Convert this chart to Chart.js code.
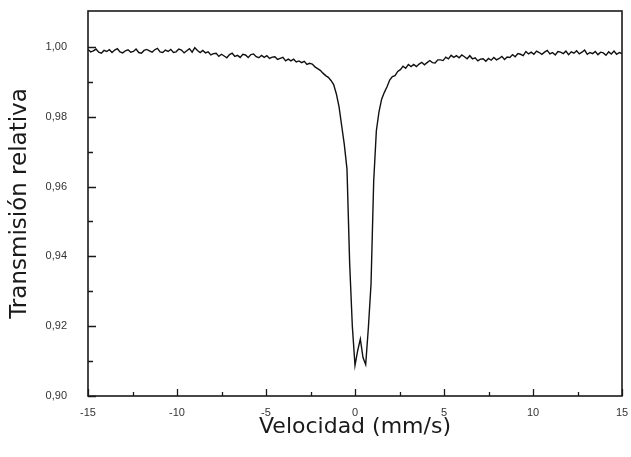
<!DOCTYPE html>
<html>
<head>
<meta charset="utf-8">
<script src="https://cdn.jsdelivr.net/npm/chart.js@4/dist/chart.umd.min.js"></script>
<style>
  html, body { margin: 0; padding: 0; background: #ffffff; }
  canvas { display: block; }
</style>
</head>
<body>
<canvas id="c" width="631" height="457"></canvas>
<script>
// Velocity channels (mm/s)
const velocity = [
-15,-14.85,-14.7,-14.55,-14.4,-14.25,-14.1,-13.95,-13.8,-13.65,
-13.5,-13.35,-13.2,-13.05,-12.9,-12.75,-12.6,-12.45,-12.3,-12.15,
-12,-11.85,-11.7,-11.55,-11.4,-11.25,-11.1,-10.95,-10.8,-10.65,
-10.5,-10.35,-10.2,-10.05,-9.9,-9.75,-9.6,-9.45,-9.3,-9.15,
-9,-8.85,-8.7,-8.55,-8.4,-8.25,-8.1,-7.95,-7.8,-7.65,
-7.5,-7.35,-7.2,-7.05,-6.9,-6.75,-6.6,-6.45,-6.3,-6.15,
-6,-5.85,-5.7,-5.55,-5.4,-5.25,-5.1,-4.95,-4.8,-4.65,
-4.5,-4.35,-4.2,-4.05,-3.9,-3.75,-3.6,-3.45,-3.3,-3.15,
-3,-2.85,-2.7,-2.55,-2.4,-2.25,-2.1,-1.95,-1.8,-1.65,
-1.5,-1.35,-1.2,-1.05,-0.9,-0.75,-0.6,-0.45,-0.3,-0.15,
0,0.15,0.3,0.45,0.6,0.75,0.9,1.05,1.2,1.35,
1.5,1.65,1.8,1.95,2.1,2.25,2.4,2.55,2.7,2.85,
3,3.15,3.3,3.45,3.6,3.75,3.9,4.05,4.2,4.35,
4.5,4.65,4.8,4.95,5.1,5.25,5.4,5.55,5.7,5.85,
6,6.15,6.3,6.45,6.6,6.75,6.9,7.05,7.2,7.35,
7.5,7.65,7.8,7.95,8.1,8.25,8.4,8.55,8.7,8.85,
9,9.15,9.3,9.45,9.6,9.75,9.9,10.05,10.2,10.35,
10.5,10.65,10.8,10.95,11.1,11.25,11.4,11.55,11.7,11.85,
12,12.15,12.3,12.45,12.6,12.75,12.9,13.05,13.2,13.35,
13.5,13.65,13.8,13.95,14.1,14.25,14.4,14.55,14.7,14.85,
15
];

// Relative transmission
const transmission = [
0.9993,0.9986,0.9989,0.9994,0.9985,0.9982,0.9990,0.9987,0.9992,0.9984,
0.9991,0.9995,0.9986,0.9983,0.9989,0.9992,0.9985,0.9987,0.9994,0.9984,
0.9982,0.9990,0.9993,0.9989,0.9985,0.9992,0.9996,0.9986,0.9984,0.9991,
0.9987,0.9993,0.9984,0.9986,0.9994,0.9991,0.9983,0.9989,0.9995,0.9985,
0.9998,0.9990,0.9984,0.9990,0.9983,0.9986,0.9977,0.9981,0.9982,0.9973,
0.9979,0.9974,0.9969,0.9978,0.9982,0.9973,0.9976,0.9970,0.9979,0.9977,
0.9970,0.9978,0.9980,0.9972,0.9969,0.9976,0.9970,0.9975,0.9967,0.9971,
0.9972,0.9964,0.9967,0.9970,0.9960,0.9965,0.9960,0.9965,0.9957,0.9960,
0.9955,0.9959,0.9950,0.9953,0.9951,0.9943,0.9938,0.9933,0.9925,0.9918,
0.9913,0.9904,0.9892,0.9866,0.9830,0.9775,0.9720,0.9650,0.9380,0.9200,
0.9088,0.9130,0.9163,0.9110,0.9090,0.9195,0.9320,0.9615,0.9760,0.9815,
0.9851,0.9870,0.9886,0.9905,0.9915,0.9918,0.9930,0.9935,0.9945,0.9939,
0.9950,0.9944,0.9950,0.9944,0.9951,0.9956,0.9949,0.9955,0.9961,0.9955,
0.9954,0.9963,0.9963,0.9961,0.9971,0.9966,0.9976,0.9970,0.9975,0.9969,
0.9977,0.9972,0.9966,0.9975,0.9966,0.9969,0.9960,0.9965,0.9966,0.9959,
0.9967,0.9962,0.9970,0.9963,0.9967,0.9973,0.9964,0.9971,0.9970,0.9978,
0.9972,0.9981,0.9979,0.9975,0.9987,0.9980,0.9985,0.9979,0.9988,0.9984,
0.9979,0.9985,0.9990,0.9980,0.9984,0.9977,0.9987,0.9985,0.9981,0.9988,
0.9978,0.9986,0.9982,0.9989,0.9980,0.9985,0.9991,0.9979,0.9984,0.9981,
0.9987,0.9978,0.9985,0.9983,0.9976,0.9986,0.9980,0.9988,0.9979,0.9984,
0.9981
];

const xMajorTicks = [-15, -10, -5, 0, 5, 10, 15];
const xMinorTicks = [-12.5, -7.5, -2.5, 2.5, 7.5, 12.5];
const yMajorTicks = [0.90, 0.92, 0.94, 0.96, 0.98, 1.00];
const yMinorTicks = [0.91, 0.93, 0.95, 0.97, 0.99];

const xTitle = 'Velocidad (mm/s)';
const yTitle = 'Transmisión relativa';

const points = velocity.map((v, i) => ({ x: v, y: transmission[i] }));

const frameTicks = {
  id: 'frameTicks',
  afterDatasetsDraw(chart) {
    const { ctx, chartArea: a, scales: { x, y } } = chart;
    ctx.save();
    ctx.strokeStyle = '#1a1a1a';
    ctx.lineWidth = 1.6;
    ctx.strokeRect(a.left, a.top, a.right - a.left, a.bottom - a.top);
    ctx.lineWidth = 1.3;
    ctx.beginPath();
    xMajorTicks.forEach(v => { const p = Math.round(x.getPixelForValue(v)) + 0.5; ctx.moveTo(p, a.bottom); ctx.lineTo(p, a.bottom - 7); });
    xMinorTicks.forEach(v => { const p = Math.round(x.getPixelForValue(v)) + 0.5; ctx.moveTo(p, a.bottom); ctx.lineTo(p, a.bottom - 4); });
    yMajorTicks.forEach(v => { const p = Math.round(y.getPixelForValue(v)) + 0.5; ctx.moveTo(a.left, p); ctx.lineTo(a.left + 8, p); });
    yMinorTicks.forEach(v => { const p = Math.round(y.getPixelForValue(v)) + 0.5; ctx.moveTo(a.left, p); ctx.lineTo(a.left + 5, p); });
    ctx.stroke();
    ctx.restore();
  }
};

new Chart(document.getElementById('c'), {
  type: 'line',
  data: {
    datasets: [{
      data: points,
      borderColor: '#111111',
      borderWidth: 1.4,
      pointRadius: 0,
      tension: 0,
      fill: false
    }]
  },
  options: {
    responsive: false,
    animation: false,
    layout: { padding: { left: 0, top: 11, right: 9, bottom: 0 } },
    plugins: { legend: { display: false }, tooltip: { enabled: false } },
    scales: {
      x: {
        type: 'linear',
        min: -15, max: 15,
        grid: { display: false, drawTicks: false },
        border: { display: false },
        afterFit(s) { s.height = 61; s.paddingLeft = 0; s.paddingRight = 0; },
        afterBuildTicks(s) { s.ticks = xMajorTicks.map(v => ({ value: v })); },
        ticks: {
          padding: 10,
          color: '#333333',
          font: { family: 'Liberation Sans, Arial, sans-serif', size: 11 },
          maxRotation: 0,
          callback: v => String(v)
        },
        title: {
          display: true,
          text: xTitle,
          color: '#1a1a1a',
          font: { family: 'DejaVu Sans, sans-serif', size: 22 },
          padding: { top: 0, bottom: 17 }
        }
      },
      y: {
        type: 'linear',
        min: 0.90, max: 1.0103,
        grid: { display: false, drawTicks: false },
        border: { display: false },
        afterFit(s) { s.width = 88; s.paddingTop = 0; s.paddingBottom = 0; },
        afterBuildTicks(s) { s.ticks = yMajorTicks.map(v => ({ value: v })); },
        ticks: {
          padding: 21,
          color: '#333333',
          font: { family: 'Liberation Sans, Arial, sans-serif', size: 11 },
          callback: v => Number(v).toFixed(2).replace('.', ',')
        },
        title: {
          display: true,
          text: yTitle,
          color: '#1a1a1a',
          font: { family: 'DejaVu Sans, sans-serif', size: 23 },
          padding: { top: 6, bottom: 0 }
        }
      }
    }
  },
  plugins: [frameTicks]
});
</script>
</body>
</html>
